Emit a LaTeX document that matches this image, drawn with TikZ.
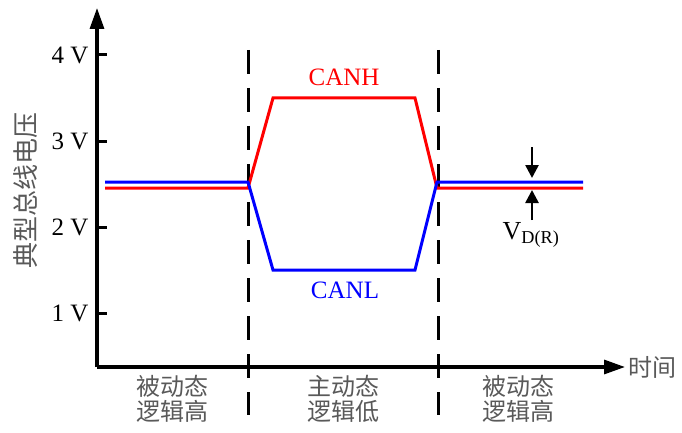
\documentclass[tikz,border=0pt]{standalone}
\usepackage{fontspec}
\setmainfont{Liberation Serif}
\newfontfamily\cjk{Noto Sans CJK SC}
\usepackage{tikz}
\usetikzlibrary{arrows.meta, positioning}

\begin{document}
\begin{tikzpicture}[x=1pt, y=-1pt,
  axis/.style={line width=3.2pt, -{Triangle[length=21pt,width=14pt]}},
  sig/.style={line width=3pt, line join=miter},
  divider/.style={line width=3pt, dash pattern=on 24pt off 14pt},
  vdarrow/.style={line width=2.6pt, -{Triangle[length=13pt,width=13pt]}},
  volt/.style={font=\fontsize{25}{26}\selectfont, anchor=east},
  zh/.style={font=\fontsize{24}{25}\selectfont\cjk, text=black!65, align=center}]
\useasboundingbox (0,0) rectangle (682,433);

% Axes
\coordinate (origin) at (97,367);
\coordinate (ytip) at (97,8);
\coordinate (xtip) at (625,367);
\draw[axis] (origin) -- (ytip);
\draw[axis] (origin) -- (xtip);
\node[zh, anchor=west, inner sep=3pt] (time) at (xtip) {时间};
\node[zh, font=\fontsize{26}{26}\selectfont\cjk, rotate=90] (ylabel) at (26,190) {典型总线电压};

% Voltage ticks
\draw[line width=3pt] (97,55) -- (107,55);
\draw[line width=3pt] (97,141) -- (107,141);
\draw[line width=3pt] (97,227) -- (107,227);
\draw[line width=3pt] (97,313) -- (107,313);
\node[volt] (vfour) at (92,55) {4 V};
\node[volt] (vthree) at (92,141) {3 V};
\node[volt] (vtwo) at (92,227) {2 V};
\node[volt] (vone) at (92,313) {1 V};

% Phase dividers
\draw[divider] (248,50) -- (248,415);
\draw[divider] (438,50) -- (438,415);
\draw[line width=3pt] (248,357) -- (248,378);
\draw[line width=3pt] (438,357) -- (438,378);

% CANH
\draw[sig, red] (105,188) -- (248,188) -- (273,98) -- (415,98) -- (437,188) -- (583,188);
\node[red, font=\fontsize{25}{26}\selectfont] (canh) at (344,77) {CANH};

% CANL
\draw[sig, blue] (105,182) -- (248,182) -- (273,270) -- (415,270) -- (437,182) -- (583,182);
\node[blue, font=\fontsize{25}{26}\selectfont] (canl) at (345,290) {CANL};

% Differential voltage
\coordinate (dtop) at (532,147);
\coordinate (dhi) at (532,178);
\coordinate (dbot) at (532,220);
\coordinate (dlo) at (532,190);
\draw[vdarrow] (dtop) -- (dhi);
\draw[vdarrow] (dbot) -- (dlo);
\node[font=\fontsize{26}{26}\selectfont] (vd) at (531,235) {V\textsubscript{D(R)}};

% Phase labels
\node[zh] (recone) at (172,399) {被动态\\逻辑高};
\node[zh] (dom) at (343,399) {主动态\\逻辑低};
\node[zh] (rectwo) at (518,399) {被动态\\逻辑高};
\end{tikzpicture}
\end{document}
